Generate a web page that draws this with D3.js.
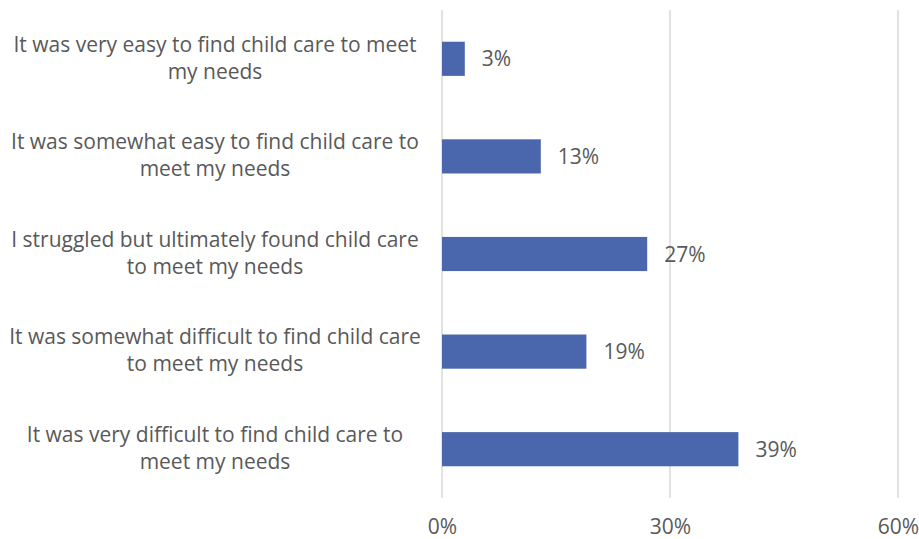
<!DOCTYPE html>
<html>
<head>
<meta charset="utf-8">
<script src="https://cdn.jsdelivr.net/npm/d3@7"></script>
<style>
  html, body { margin: 0; padding: 0; background: #fff; }
  svg text { font-family: "Open Sans", sans-serif; fill: #595959; }
</style>
</head>
<body>
<svg id="chart" width="919" height="539"></svg>
<script>
// Survey responses: ease of finding child care (wrapped label lines)
const categoryLines = [
  ["It was very easy to find child care to meet", "my needs"],
  ["It was somewhat easy to find child care to", "meet my needs"],
  ["I struggled but ultimately found child care", "to meet my needs"],
  ["It was somewhat difficult to find child care", "to meet my needs"],
  ["It was very difficult to find child care to", "meet my needs"]
];
const categories = categoryLines.map(l => l.join(" "));
const values = [3, 13, 27, 19, 39];
const tickValues = [0, 30, 60];

const svg = d3.select("#chart");
const fontSize = 21;
const margin = { top: 10, bottom: 41, left: 442, right: 21 };
const W = 919, H = 539;

const x = d3.scaleLinear().domain([0, 60]).range([margin.left, W - margin.right]);
const y = d3.scaleBand().domain(categories).range([margin.top, H - margin.bottom]).paddingInner(0.65).paddingOuter(0.325);

// vertical gridlines
svg.append("g").selectAll("line").data(tickValues).join("line")
  .attr("x1", d => x(d)).attr("x2", d => x(d))
  .attr("y1", margin.top).attr("y2", H - margin.bottom)
  .attr("stroke", "#d9d9d9").attr("stroke-width", 1.5);

// x-axis tick labels
const xAxis = d3.axisBottom(x).tickValues(tickValues).tickFormat(d => d + "%").tickSize(0).tickPadding(0);
const gx = svg.append("g").attr("transform", `translate(0,534)`).call(xAxis);
gx.select(".domain").remove();
gx.selectAll("text").attr("font-size", fontSize).attr("dy", null).attr("y", 0)
  .style("font-family", "'Open Sans', sans-serif").attr("fill", "#595959");

// bars
svg.append("g").selectAll("rect").data(categories).join("rect")
  .attr("x", x(0)).attr("y", d => y(d))
  .attr("width", (d, i) => x(values[i]) - x(0))
  .attr("height", y.bandwidth())
  .attr("fill", "#4a66ac");

// value labels
svg.append("g").selectAll("text").data(categories).join("text")
  .attr("x", (d, i) => x(values[i]) + 17)
  .attr("y", d => y(d) + y.bandwidth() / 2 + 7.5)
  .attr("font-size", fontSize)
  .text((d, i) => values[i] + "%");

// category labels, two centered lines per bar
const labelCenter = 215, lineHeight = 27;
const labels = svg.append("g");
categories.forEach((c, i) => {
  const cy = y(c) + y.bandwidth() / 2;
  const t = labels.append("text").attr("text-anchor", "middle").attr("font-size", fontSize);
  categoryLines[i].forEach((ln, k) => {
    t.append("tspan").attr("x", labelCenter)
      .attr("y", cy - 7.2 + k * lineHeight)
      .text(ln);
  });
});
</script>
</body>
</html>
